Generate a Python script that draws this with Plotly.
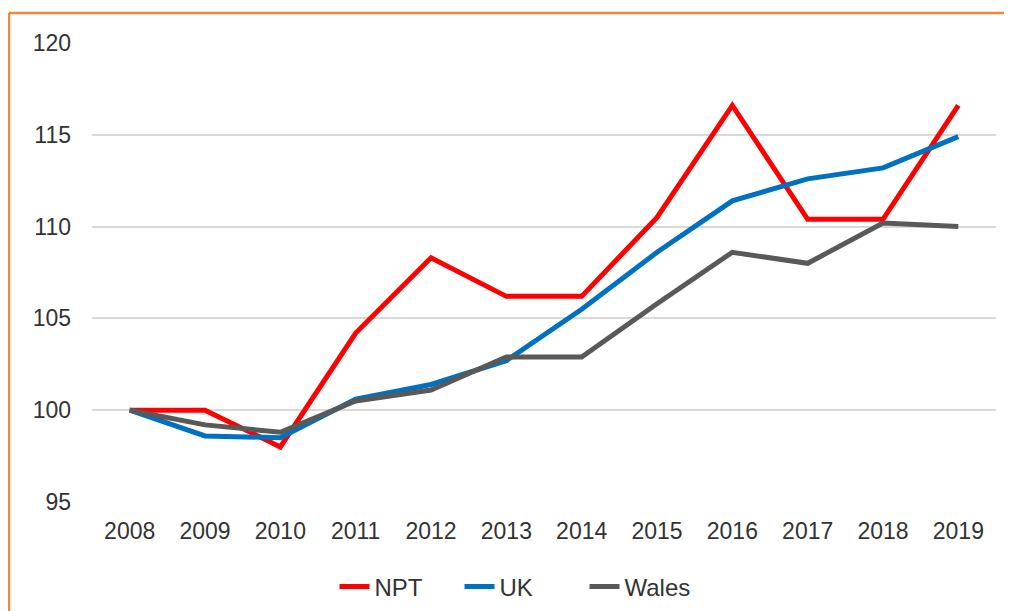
import plotly.graph_objects as go

years = ["2008", "2009", "2010", "2011", "2012", "2013", "2014", "2015", "2016", "2017", "2018", "2019"]
npt = [100, 100, 98.0, 104.2, 108.3, 106.2, 106.2, 110.5, 116.6, 110.4, 110.4, 116.6]
uk = [100, 98.6, 98.5, 100.6, 101.4, 102.7, 105.5, 108.6, 111.4, 112.6, 113.2, 114.9]
wales = [100, 99.2, 98.8, 100.5, 101.1, 102.9, 102.9, 105.8, 108.6, 108.0, 110.2, 110.0]

series = [("NPT", npt, "#FF0000"), ("UK", uk, "#0070C0"), ("Wales", wales, "#595959")]

fig = go.Figure()
for name, vals, col in series:
    fig.add_trace(go.Scatter(x=years, y=vals, name=name, mode="lines",
                             line=dict(color=col, width=5)))

# page body has an 8px margin, so figure coords = screen coords - 8
OFF = 8
W, H = 1004, 603
L, R, T, B = 84, 16, 35, 109
pw, ph = W - L - R, H - T - B

def px_x(sx):
    return (sx - OFF - L) / pw

def px_y(sy):
    return (H - B - (sy - OFF)) / ph

border = "#F0873A"
fig.add_shape(type="line", xref="paper", yref="paper", x0=px_x(9), x1=px_x(1030),
              y0=px_y(13), y1=px_y(13), line=dict(color=border, width=2.5))
fig.add_shape(type="line", xref="paper", yref="paper", x0=px_x(9), x1=px_x(9),
              y0=px_y(13), y1=px_y(640), line=dict(color=border, width=2.5))

tf = dict(family="Liberation Sans, Arial", size=23, color="#333333")
lf = dict(family="Liberation Sans, Arial", size=24, color="#333333")

fig.update_layout(
    width=W, height=H,
    margin=dict(l=L, r=R, t=T, b=B, autoexpand=False),
    paper_bgcolor="white", plot_bgcolor="white",
    font=tf,
    showlegend=True,
    legend=dict(orientation="h", x=px_x(522), xanchor="center", y=px_y(587), yanchor="middle",
                font=lf, itemwidth=30, traceorder="normal",
                entrywidth=80, entrywidthmode="pixels"),
    xaxis=dict(type="category", range=[-0.5, 11.5], showgrid=False, zeroline=False,
               showline=False, ticks="", automargin=False,
               ticklabelstandoff=13, tickfont=tf),
    yaxis=dict(range=[95, 120], dtick=5, tick0=95, showgrid=True, gridcolor="#D9D9D9",
               gridwidth=1.5, zeroline=False, showline=False, ticks="", automargin=False,
               ticklabelstandoff=20, tickfont=tf),
)

fig.write_html("out.html")
